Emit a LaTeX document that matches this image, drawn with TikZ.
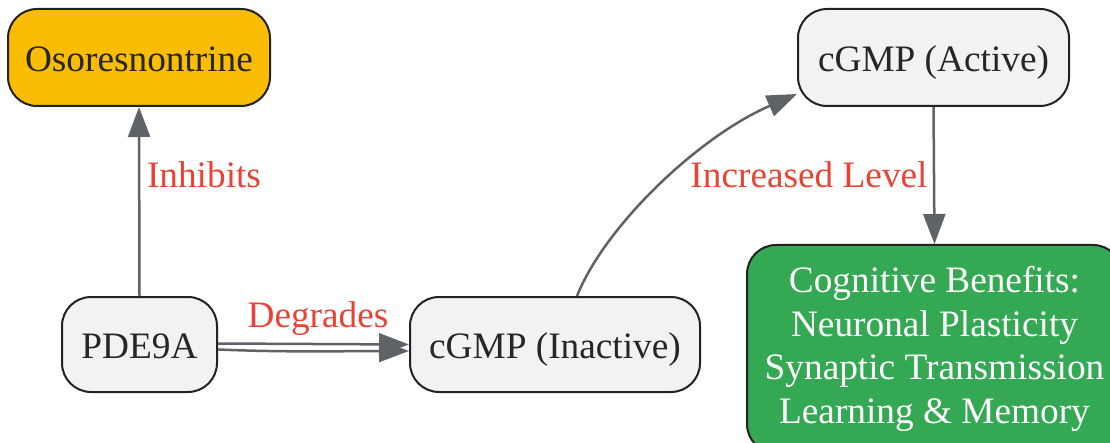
\documentclass[tikz,border=0pt]{standalone}
\usepackage{fontspec}
\setmainfont{Liberation Serif}
\usetikzlibrary{arrows.meta}
\definecolor{boxfill}{HTML}{F1F2F4}
\definecolor{boxline}{HTML}{222222}
\definecolor{txt}{HTML}{262626}
\definecolor{edge}{HTML}{5F6368}
\definecolor{lbl}{HTML}{EA4335}
\definecolor{yel}{HTML}{FBBC04}
\definecolor{grn}{HTML}{34A853}
\tikzset{
  box/.style={draw=boxline, line width=2pt, fill=boxfill, rounded corners=29pt,
    inner sep=0pt, text=txt, font=\fontsize{37.3}{44}\selectfont,
    text height=28pt, text depth=0pt},
  lab/.style={inner sep=0pt, text=lbl, font=\fontsize{37.3}{44}\selectfont, anchor=base},
  conn/.style={draw=edge, line width=2.5pt, -{Triangle[length=30pt,width=22pt]}},
}
\begin{document}
\begin{tikzpicture}[x=1pt,y=1pt]
\useasboundingbox (0,0) rectangle (1110,442);
\node[box, fill=yel, minimum width=262pt, minimum height=97pt] (osor) at (139,384.5) {Osoresnontrine};
\node[box, minimum width=155pt, minimum height=95pt] (pde) at (139.5,97.5) {PDE9A};
\node[box, minimum width=290pt, minimum height=95pt] (inact) at (555,97.5) {cGMP (Inactive)};
\node[box, minimum width=271pt, minimum height=97pt] (active) at (933.5,384.5) {cGMP (Active)};
\node[box, fill=grn, text=white, minimum width=375pt, minimum height=208pt,
  text height=, text depth=, align=center, font=\fontsize{37.3}{43.7}\selectfont] (cog) at (934.5,93)
  {Cognitive Benefits:\\Neuronal Plasticity\\Synaptic Transmission\\Learning \& Memory};
% connectors
\draw[conn] (pde.north) -- (osor.south);
\draw[conn] ([yshift=1pt]pde.east) -- ([yshift=0pt]inact.west);
\draw[conn] ([yshift=-5pt]pde.east) .. controls +(70,-3) and +(-60,0) .. ([yshift=-6.5pt]inact.west);
\draw[conn] ([xshift=22pt]inact.north) .. controls +(28,70) and +(-99,-43) .. ([yshift=-36.5pt]active.west);
\draw[conn] (active.south) -- (cog.north);
% labels
\node[lab] (linh) at (204,254.3) {Inhibits};
\node[lab] (ldeg) at (318,114.7) {Degrades};
\node[lab] (linc) at (809,254) {Increased Level};
\end{tikzpicture}
\end{document}
